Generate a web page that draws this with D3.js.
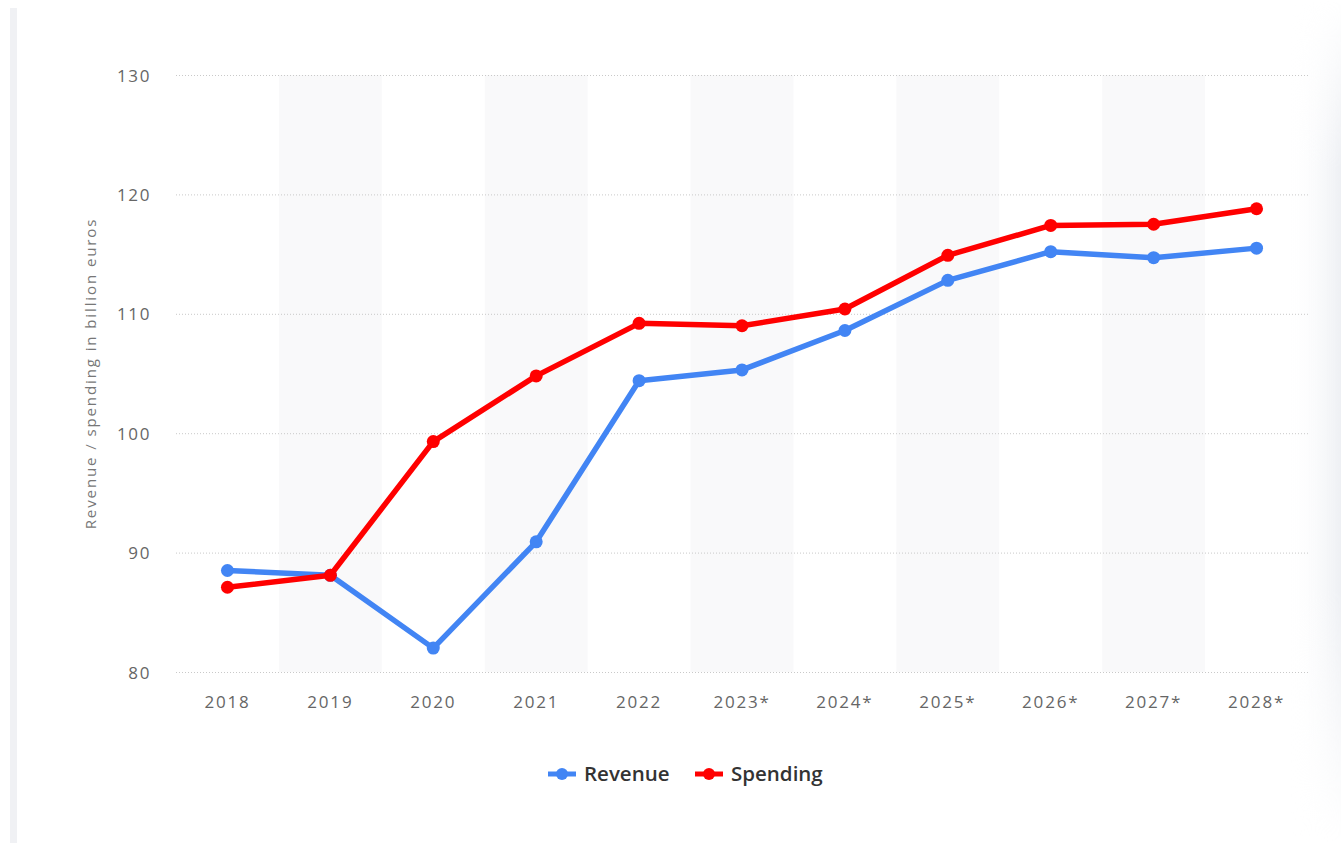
<!DOCTYPE html>
<html>
<head>
<meta charset="utf-8">
<script src="https://cdn.jsdelivr.net/npm/d3@7/dist/d3.min.js"></script>
<style>
  html, body { margin: 0; padding: 0; background: #fff; }
  svg { display: block; }
</style>
</head>
<body>
<svg id="chart" width="1341" height="843"></svg>
<script>
// Public revenue and spending, billion euros
const years = ["2018", "2019", "2020", "2021", "2022", "2023*", "2024*", "2025*", "2026*", "2027*", "2028*"];
const revenue = [88.5, 88.1, 82.0, 90.9, 104.4, 105.3, 108.6, 112.8, 115.2, 114.7, 115.5];
const spending = [87.1, 88.1, 99.3, 104.8, 109.2, 109.0, 110.4, 114.9, 117.4, 117.5, 118.8];
const yTicks = [80, 90, 100, 110, 120, 130];
const seriesNames = ["Revenue", "Spending"];
const seriesColors = ["#4285f4", "#ff0000"];

const svg = d3.select("#chart");
const W = 1341, H = 843;
const margin = { left: 176, right: 33, top: 75, bottom: 171 };

// page frame: thin left rail and soft right shadow
const defs = svg.append("defs");
const grad = defs.append("linearGradient").attr("id", "rshade").attr("x1", 0).attr("x2", 1).attr("y1", 0).attr("y2", 0);
grad.append("stop").attr("offset", "0%").attr("stop-color", "#ffffff").attr("stop-opacity", 0);
grad.append("stop").attr("offset", "100%").attr("stop-color", "#eef0f4").attr("stop-opacity", 1);
const vgrad = defs.append("linearGradient").attr("id", "vshade").attr("x1", 0).attr("x2", 0).attr("y1", 0).attr("y2", 1);
vgrad.append("stop").attr("offset", "0%").attr("stop-color", "#fff").attr("stop-opacity", 0);
vgrad.append("stop").attr("offset", "20%").attr("stop-color", "#fff").attr("stop-opacity", 1);
vgrad.append("stop").attr("offset", "70%").attr("stop-color", "#fff").attr("stop-opacity", 1);
vgrad.append("stop").attr("offset", "100%").attr("stop-color", "#fff").attr("stop-opacity", 0);
const mask = defs.append("mask").attr("id", "vmask");
mask.append("rect").attr("x", 0).attr("y", 0).attr("width", W).attr("height", H).attr("fill", "url(#vshade)");

svg.append("rect").attr("x", 10).attr("y", 8).attr("width", 7).attr("height", 835).attr("fill", "#f0f1f4");
svg.append("rect").attr("x", 1285).attr("y", 0).attr("width", 56).attr("height", H)
  .attr("fill", "url(#rshade)").attr("mask", "url(#vmask)");

const x = d3.scaleBand().domain(years).range([margin.left, W - margin.right]).paddingInner(0).paddingOuter(0);
const y = d3.scaleLinear().domain([80, 130]).range([H - margin.bottom, margin.top]);

// alternating column shading
svg.append("g").selectAll("rect")
  .data(years.filter((d, i) => i % 2 === 1))
  .join("rect")
  .attr("x", d => x(d))
  .attr("y", y(130))
  .attr("width", x.bandwidth())
  .attr("height", y(80) - y(130))
  .attr("fill", "#f9f9fa");

// horizontal dotted grid
svg.append("g").selectAll("line")
  .data(yTicks)
  .join("line")
  .attr("x1", margin.left).attr("x2", W - margin.right)
  .attr("y1", d => y(d) + 0.5).attr("y2", d => y(d) + 0.5)
  .attr("stroke", "#c9c9c9").attr("stroke-width", 1).attr("stroke-dasharray", "1,2");

// y axis labels
const yAxis = d3.axisLeft(y).tickValues(yTicks).tickSize(0).tickPadding(0);
const gy = svg.append("g").attr("transform", `translate(151,0)`).call(yAxis);
gy.select(".domain").remove();
gy.selectAll("text")
  .attr("font-family", "'Open Sans', sans-serif").attr("font-size", 17)
  .attr("fill", "#666").attr("letter-spacing", "1.6px").attr("dy", "0.36em");

// x axis labels
const xAxis = d3.axisBottom(x).tickSize(0).tickPadding(0);
const gx = svg.append("g").attr("transform", `translate(0,708)`).call(xAxis);
gx.select(".domain").remove();
gx.selectAll("text")
  .attr("font-family", "'Open Sans', sans-serif").attr("font-size", 17)
  .attr("fill", "#666").attr("letter-spacing", "1.8px").attr("dy", "0");

// y axis title
svg.append("text")
  .attr("transform", `translate(96,${(y(80) + y(130)) / 2}) rotate(-90)`)
  .attr("text-anchor", "middle")
  .attr("font-family", "'Open Sans', sans-serif").attr("font-size", 15)
  .attr("fill", "#777").attr("letter-spacing", "1.9px")
  .text("Revenue / spending in billion euros");

// lines and markers
const series = [revenue, spending];
const line = d3.line().x((d, i) => x(years[i]) + x.bandwidth() / 2).y(d => y(d));
series.forEach((vals, si) => {
  const g = svg.append("g");
  g.append("path").datum(vals)
    .attr("d", line).attr("fill", "none")
    .attr("stroke", seriesColors[si]).attr("stroke-width", 5.5)
    .attr("stroke-linejoin", "round").attr("stroke-linecap", "round");
  g.selectAll("circle").data(vals).join("circle")
    .attr("cx", (d, i) => x(years[i]) + x.bandwidth() / 2)
    .attr("cy", d => y(d))
    .attr("r", 6.5)
    .attr("fill", seriesColors[si]);
});

// legend
const legendItems = [
  { name: seriesNames[0], color: seriesColors[0], x: 548 },
  { name: seriesNames[1], color: seriesColors[1], x: 695 }
];
const lg = svg.append("g").attr("transform", "translate(0,774)");
legendItems.forEach(it => {
  lg.append("line").attr("x1", it.x).attr("x2", it.x + 28).attr("y1", 0).attr("y2", 0)
    .attr("stroke", it.color).attr("stroke-width", 5);
  lg.append("circle").attr("cx", it.x + 14).attr("cy", 0).attr("r", 6).attr("fill", it.color);
  lg.append("text").attr("x", it.x + 36).attr("y", 0).attr("dy", "0.36em")
    .attr("font-family", "'Open Sans', sans-serif").attr("font-size", 20.5).attr("font-weight", 600)
    .attr("fill", "#333").text(it.name);
});
</script>
</body>
</html>
